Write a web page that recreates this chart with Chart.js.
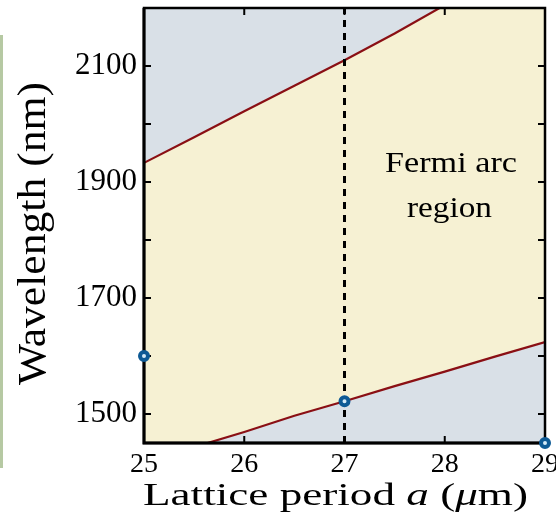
<!DOCTYPE html>
<html>
<head>
<meta charset="utf-8">
<script src="https://cdn.jsdelivr.net/npm/chart.js@4/dist/chart.umd.min.js"></script>
<style>
  html, body { margin: 0; padding: 0; background: #fff; }
  #wrap { position: relative; width: 556px; height: 524px; }
  #strip { position: absolute; left: 0; top: 35px; width: 3px; height: 433px; background: #b6c9a3; }
  canvas { position: absolute; left: 0; top: 0; }
</style>
</head>
<body>
<div id="wrap">
  <div id="strip"></div>
  <canvas id="chart" width="556" height="524"></canvas>
</div>
<script>
// boundary curves (lattice period in um, wavelength in nm)
const upperX = [25, 25.5, 26, 26.5, 27, 27.5, 28, 28.5, 29]
const upperY = [1933, 1977, 2022, 2066, 2110, 2156, 2205, 2252, 2300]
const lowerX = [25, 25.5, 26, 26.5, 27, 27.5, 28, 28.5, 29]
const lowerY = [1417, 1443, 1469, 1497, 1522, 1548, 1573, 1599, 1624]

// marked design points
const markerX = [25, 27, 29]
const markerY = [1600, 1522, 1450]

// dashed divider at a = 27
const dividerX = [27, 27]
const dividerY = [1450, 2200]

const xTicks = [25, 26, 27, 28, 29]
const yTicks = [1500, 1600, 1700, 1800, 1900, 2000, 2100]
const yLabelTicks = [1500, 1700, 1900, 2100]

const SERIF = '"Liberation Serif"'
const toPts = (xs, ys) => xs.map((x, i) => ({ x, y: ys[i] }))

// ── text drawn with a horizontal stretch to fit a given width ────────────────
function drawParts(ctx, parts, width) {
  let total = 0
  parts.forEach(p => { ctx.font = p.font; total += ctx.measureText(p.t).width })
  const sx = width / total
  ctx.scale(sx, 1)
  let cur = 0
  parts.forEach(p => {
    ctx.font = p.font
    ctx.fillText(p.t, cur, 0)
    cur += ctx.measureText(p.t).width
  })
}

const labelsPlugin = {
  id: 'labels',
  beforeDatasetsDraw(chart) {
    const { ctx, chartArea: a } = chart
    ctx.save()
    ctx.fillStyle = '#d9e0e7'
    ctx.fillRect(a.left, a.top, a.right - a.left, a.bottom - a.top)
    ctx.restore()
  },
  afterDatasetDraw(chart, args) {
    if (args.index !== 2) return
    const { ctx, chartArea: a, scales } = chart
    ctx.save()
    ctx.strokeStyle = '#000'
    ctx.lineWidth = 2.5
    ctx.strokeRect(a.left, a.top, a.right - a.left, a.bottom - a.top)
    // heavier left and bottom edges
    ctx.lineWidth = 3
    ctx.beginPath()
    ctx.moveTo(a.left, a.top); ctx.lineTo(a.left, a.bottom); ctx.lineTo(a.right, a.bottom)
    ctx.stroke()
    // inward ticks on all four sides
    ctx.lineWidth = 2
    const len = 7
    ctx.beginPath()
    xTicks.forEach(v => {
      const px = scales.x.getPixelForValue(v)
      ctx.moveTo(px, a.bottom); ctx.lineTo(px, a.bottom - len)
      ctx.moveTo(px, a.top);    ctx.lineTo(px, a.top + len)
    })
    yTicks.forEach(v => {
      const py = scales.y.getPixelForValue(v)
      ctx.moveTo(a.left, py);  ctx.lineTo(a.left + len, py)
      ctx.moveTo(a.right, py); ctx.lineTo(a.right - len, py)
    })
    ctx.stroke()
    ctx.restore()
  },
  afterDraw(chart) {
    const ctx = chart.ctx
    ctx.save()
    ctx.fillStyle = '#000'
    ctx.textBaseline = 'alphabetic'
    ctx.textAlign = 'left'

    // x title
    ctx.save()
    ctx.translate(143, 505)
    drawParts(ctx, [
      { t: 'Lattice period ', font: `32px ${SERIF}` },
      { t: 'a', font: `italic 32px ${SERIF}` },
      { t: ' (', font: `32px ${SERIF}` },
      { t: 'μ', font: `italic 32px ${SERIF}` },
      { t: 'm)', font: `32px ${SERIF}` },
    ], 385)
    ctx.restore()

    // y title
    ctx.save()
    ctx.translate(45, 385)
    ctx.rotate(-Math.PI / 2)
    drawParts(ctx, [{ t: 'Wavelength (nm)', font: `41px ${SERIF}` }], 303)
    ctx.restore()

    // annotation
    ctx.save()
    ctx.translate(385, 172)
    drawParts(ctx, [{ t: 'Fermi arc', font: `30px ${SERIF}` }], 132)
    ctx.restore()
    ctx.save()
    ctx.translate(407, 217)
    drawParts(ctx, [{ t: 'region', font: `30px ${SERIF}` }], 85)
    ctx.restore()

    ctx.restore()
  },
}

function build() {
  new Chart(document.getElementById('chart'), {
    type: 'line',
    plugins: [labelsPlugin],
    data: {
      datasets: [
        {
          label: 'upper',
          data: toPts(upperX, upperY),
          borderColor: '#8a0f14',
          borderWidth: 2.2,
          backgroundColor: '#f6f1d3',
          pointRadius: 0,
          tension: 0,
          fill: '+1',
          order: 4,
        },
        {
          label: 'lower',
          data: toPts(lowerX, lowerY),
          borderColor: '#8a0f14',
          borderWidth: 2.2,
          pointRadius: 0,
          tension: 0,
          fill: false,
          order: 3,
        },
        {
          label: 'divider',
          data: toPts(dividerX, dividerY),
          borderColor: '#000',
          borderWidth: 3,
          borderDash: [7, 6],
          pointRadius: 0,
          fill: false,
          order: 2,
        },
        {
          label: 'points',
          data: toPts(markerX, markerY),
          showLine: false,
          pointRadius: 4,
          pointBorderWidth: 4,
          pointBorderColor: '#0d5a95',
          pointBackgroundColor: '#d4eaf7',
          clip: false,
          order: 1,
        },
      ],
    },
    options: {
      responsive: false,
      animation: false,
      layout: { padding: { top: 5, right: 11, left: 0, bottom: 0 } },
      plugins: { legend: { display: false }, tooltip: { enabled: false } },
      scales: {
        x: {
          type: 'linear',
          min: 25,
          max: 29,
          afterBuildTicks: s => { s.ticks = xTicks.map(v => ({ value: v })) },
          afterFit: s => { s.height = 81; s.paddingLeft = 0; s.paddingRight = 0 },
          ticks: { color: '#000', font: { family: SERIF, size: 28 }, padding: 5, maxRotation: 0 },
          grid: { display: false, drawTicks: false },
          border: { display: false },
        },
        y: {
          min: 1450,
          max: 2200,
          afterBuildTicks: s => { s.ticks = yTicks.map(v => ({ value: v })) },
          afterFit: s => { s.width = 144; s.paddingTop = 0; s.paddingBottom = 0 },
          ticks: {
            color: '#000',
            font: { family: SERIF, size: 31 },
            padding: 7,
            callback: v => yLabelTicks.includes(v) ? String(v) : '',
          },
          grid: { display: false, drawTicks: false },
          border: { display: false },
        },
      },
    },
  })
}

document.fonts.load('32px "Liberation Serif"').then(build, build)
</script>
</body>
</html>
